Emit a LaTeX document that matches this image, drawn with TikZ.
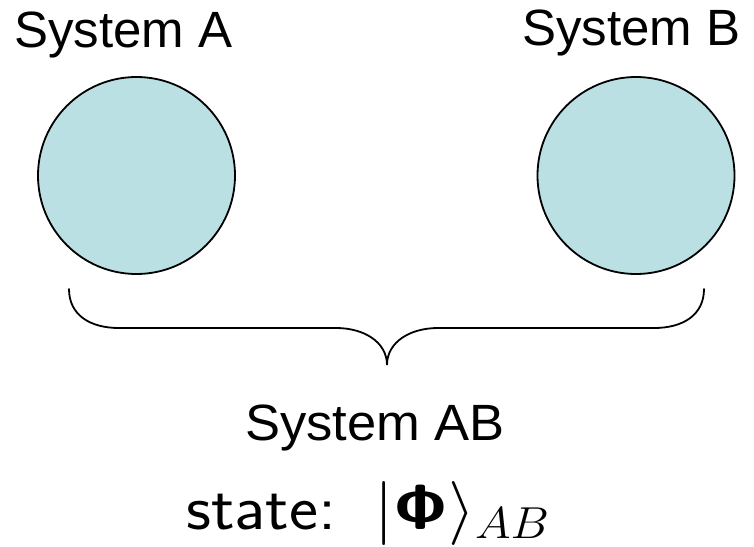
\RequirePackage{fix-cm}
\documentclass[tikz,border=0pt]{standalone}
\usepackage[no-math]{fontspec}
\newfontfamily\arialf{Liberation Sans}
\definecolor{sysfill}{RGB}{187,224,227}
\newcommand{\boldsfPhi}{\mbox{\fontencoding{OT1}\fontfamily{cmss}\bfseries\selectfont\char8}}
\begin{document}
\begin{tikzpicture}[x=1pt,y=-1pt,
  sysball/.style={circle,draw=black,line width=1.8pt,fill=sysfill,minimum size=197pt,inner sep=0pt},
  syslabel/.style={anchor=base west,inner sep=0pt,font=\arialf\fontsize{51}{60}\selectfont},
  statelabel/.style={anchor=base west,inner sep=0pt,font=\sffamily\fontsize{64}{76}\selectfont},
  bracepath/.style={line width=1.8pt,line cap=round}]
\useasboundingbox (0,0) rectangle (754,546);
\node[sysball] (A) at (136.5,175.5) {};
\node[sysball] (B) at (636,175.5) {};
\node[syslabel] (la) at (14,47) {System A};
\node[syslabel] (lb) at (522,45) {System B};
\node[syslabel] (lab) at (245,440) {\scalebox{1.03}[1]{System AB}};
\node[statelabel] (st) at (186,529) {\scalebox{1.08}[1]{state:\hspace{0.55em}$|\boldsfPhi\rangle_{AB}$}};
\coordinate (bl) at (69,289);
\coordinate (br) at (704,289);
\coordinate (tip) at (387,365);
\draw[bracepath] (bl) .. controls (69,315) and (90,328) .. (119,328) -- (336,328)
  .. controls (364,328) and (387,342) .. (tip)
  .. controls (387,342) and (410,328) .. (438,328) -- (654,328)
  .. controls (683,328) and (704,315) .. (br);
\end{tikzpicture}
\end{document}
